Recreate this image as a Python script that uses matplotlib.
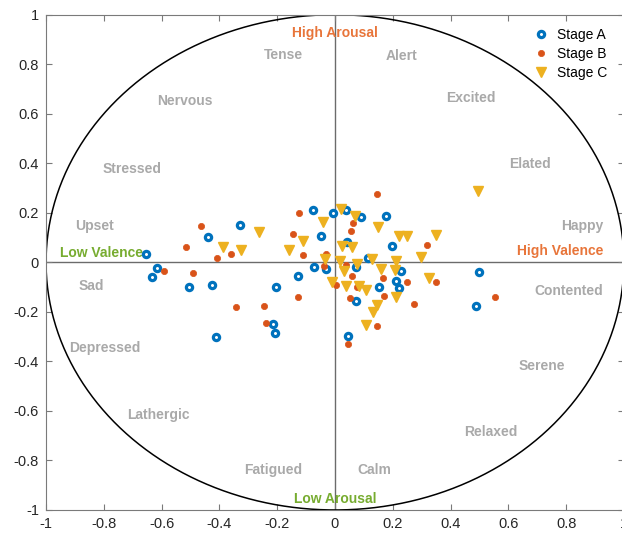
import numpy as np
import matplotlib
matplotlib.use("Agg")
import matplotlib.pyplot as plt
from matplotlib.ticker import FixedLocator, FuncFormatter

plt.rcParams['font.family'] = ['Liberation Sans', 'DejaVu Sans']

# Valence / arousal ratings per stage
stage_a_x = [-0.654, -0.616, -0.634, -0.504, -0.426, -0.439, -0.328, -0.410, -0.205, -0.216,
             -0.208, -0.127, -0.074, -0.049, -0.076, -0.030, -0.006, 0.037, 0.091, 0.178,
             0.040, 0.198, 0.116, 0.072, 0.230, 0.210, 0.223, 0.154, 0.072, 0.046,
             0.500, 0.487]
stage_a_y = [0.034, -0.024, -0.061, -0.098, -0.091, 0.104, 0.151, -0.300, -0.098, -0.249,
             -0.285, -0.054, -0.017, 0.105, 0.213, -0.027, 0.200, 0.213, 0.182, 0.186,
             0.081, 0.067, 0.017, -0.019, -0.034, -0.074, -0.104, -0.098, -0.157, -0.296,
             -0.040, -0.175]

stage_b_x = [-0.517, -0.591, -0.492, -0.463, -0.409, -0.359, -0.342, -0.246, -0.239, -0.145,
             -0.109, -0.129, -0.124, -0.030, 0.145, 0.062, 0.054, 0.317, 0.039, 0.058,
             0.005, 0.166, 0.248, 0.349, 0.051, 0.169, 0.272, 0.144, 0.046, 0.077,
             0.553, -0.038]
stage_b_y = [0.063, -0.036, -0.043, 0.148, 0.016, 0.032, -0.179, -0.176, -0.246, 0.115,
             0.031, -0.141, 0.200, 0.034, 0.276, 0.159, 0.128, 0.069, -0.011, -0.054,
             -0.091, -0.063, -0.081, -0.081, -0.144, -0.137, -0.168, -0.256, -0.328, -0.101,
             -0.139, -0.015]

stage_c_x = [-0.387, -0.326, -0.263, -0.160, -0.111, -0.042, -0.036, 0.020, 0.070, 0.149,
             0.223, 0.248, 0.350, 0.025, 0.058, 0.017, 0.077, 0.129, 0.210, 0.298,
             0.158, 0.208, 0.031, 0.325, -0.011, 0.039, 0.083, 0.108, 0.211, 0.146,
             0.131, 0.106, 0.495]
stage_c_y = [0.062, 0.050, 0.121, 0.050, 0.088, 0.164, 0.015, 0.216, 0.186, 0.141,
             0.108, 0.108, 0.111, 0.066, 0.063, 0.005, -0.005, 0.012, 0.007, 0.022,
             -0.027, -0.029, -0.034, -0.063, -0.078, -0.094, -0.097, -0.110, -0.141, -0.172,
             -0.199, -0.252, 0.288]

# Emotion words around the circumplex
emotion_words = ["Tense", "Alert", "Nervous", "Excited", "Stressed", "Elated", "Upset", "Happy",
                 "Sad", "Contented", "Depressed", "Serene", "Lathergic", "Relaxed", "Fatigued", "Calm"]
emotion_x = [-0.177, 0.230, -0.519, 0.472, -0.702, 0.676, -0.833, 0.855,
             -0.844, 0.808, -0.796, 0.717, -0.611, 0.538, -0.215, 0.137]
emotion_y = [0.839, 0.835, 0.653, 0.665, 0.378, 0.398, 0.148, 0.145,
             -0.094, -0.114, -0.345, -0.417, -0.615, -0.684, -0.837, -0.837]

tick_values = [-1, -0.8, -0.6, -0.4, -0.2, 0, 0.2, 0.4, 0.6, 0.8, 1]

BLUE = '#0072BD'
ORANGE = '#D95319'
YELLOW = '#EDB120'
GREEN = '#77AC30'
WORD_GRAY = '#a9a9a9'

fig = plt.figure(figsize=(6.22, 5.34), dpi=100)
ax = fig.add_axes([0.074, 0.045, 0.929, 0.9275])

# unit circle
theta = np.linspace(0, 2 * np.pi, 400)
ax.plot(np.cos(theta), np.sin(theta), color='black', lw=1.1, zorder=2)

# valence / arousal axes
ax.axhline(0, color='#6b6b6b', lw=1.0, zorder=1)
ax.axvline(0, color='#6b6b6b', lw=1.0, zorder=1)

for w, x, y in zip(emotion_words, emotion_x, emotion_y):
    ax.text(x, y, w, color=WORD_GRAY, fontsize=10, fontweight='bold',
            ha='center', va='center', zorder=3)

ax.text(0, 0.928, "High Arousal", color='#E8753A', fontsize=10, fontweight='bold',
        ha='center', va='center', zorder=3)
ax.text(0, -0.955, "Low Arousal", color=GREEN, fontsize=10, fontweight='bold',
        ha='center', va='center', zorder=3)
ax.text(0.781, 0.044, "High Valence", color='#E8753A', fontsize=10, fontweight='bold',
        ha='center', va='center', zorder=3)
ax.text(-0.809, 0.038, "Low Valence", color=GREEN, fontsize=10, fontweight='bold',
        ha='center', va='center', zorder=3)

ax.plot(stage_a_x, stage_a_y, 'o', ls='none', ms=4.5, mfc='white', mec=BLUE, mew=2.3,
        label='Stage A', zorder=5)
ax.plot(stage_b_x, stage_b_y, 'o', ls='none', ms=4.5, mfc=ORANGE, mec=ORANGE, mew=0.5,
        label='Stage B', zorder=5)
ax.plot(stage_c_x, stage_c_y, 'v', ls='none', ms=7.6, mfc=YELLOW, mec=YELLOW, mew=1.0,
        label='Stage C', zorder=5)

ax.set_xlim(-1, 1)
ax.set_ylim(-1, 1)
ax.xaxis.set_major_locator(FixedLocator(tick_values))
ax.yaxis.set_major_locator(FixedLocator(tick_values))
fmt = FuncFormatter(lambda v, p: '%g' % v)
ax.xaxis.set_major_formatter(fmt)
ax.yaxis.set_major_formatter(fmt)
ax.tick_params(direction='in', length=4, width=0.8, colors='#7a7a7a', labelcolor='#262626',
               labelsize=10.5, top=True, right=True, pad=5)
for s in ax.spines.values():
    s.set_color('#7a7a7a')
    s.set_linewidth(0.8)

leg = ax.legend(loc='upper right', bbox_to_anchor=(0.99, 0.995), frameon=False,
                fontsize=10, handletextpad=0.4, labelspacing=0.35, handlelength=1.5,
                borderpad=0.3)

fig.savefig('out.png', dpi=100)
